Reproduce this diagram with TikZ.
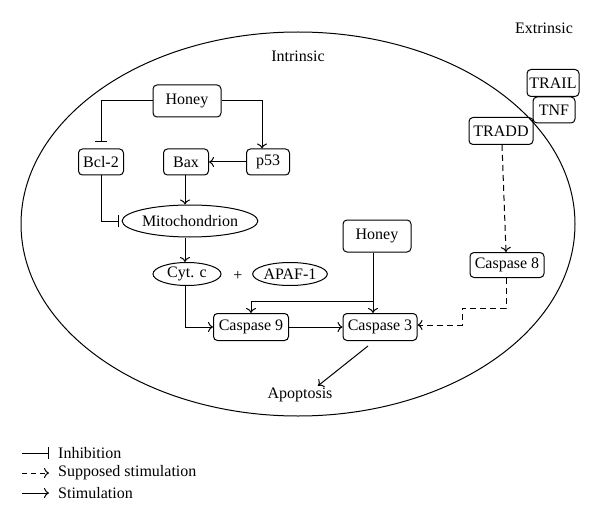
\documentclass[tikz,border=0pt]{standalone}
\usepackage{fontspec}
\setmainfont{Liberation Serif}
\usetikzlibrary{arrows.meta,shapes.geometric}
\begin{document}
\begin{tikzpicture}[x=1pt,y=-1pt,
  every node/.style={font=\fontsize{16}{18}\selectfont, inner sep=1pt},
  box/.style={draw, rounded corners=4pt, line width=1pt, minimum height=26pt},
  oval/.style={draw, ellipse, line width=1pt, inner sep=0pt},
  conn/.style={line width=1pt, -{To[length=5pt,width=10pt]}},
  inh/.style={line width=1pt, -{Bar[width=12pt,line width=1pt]}},
  dsh/.style={line width=1pt, dash pattern=on 6pt off 4pt, -{To[length=5pt,width=10pt]}}]
\useasboundingbox (0,0) rectangle (600,524);
% cell
\draw[line width=1pt] (298,224) ellipse [x radius=277, y radius=192];
\node (intr) at (298,56) {Intrinsic};
\node (extr) at (544,28) {Extrinsic};
% nodes
\node[box, minimum width=68pt, minimum height=32pt] (honey) at (187,101) {Honey};
\node[box, minimum width=45pt] (bcl) at (101,162) {Bcl-2};
\node[box, minimum width=45pt] (bax) at (186,162) {Bax};
\node[box, minimum width=43pt] (p53) at (268,162) {p53};
\node[oval, minimum width=124pt, minimum height=32pt] (mito) at (190,221) {Mitochondrion};
\node[oval, minimum width=68pt, minimum height=23pt] (cytc) at (187,274) {Cyt. c};
\node (plus) at (238,276) {+};
\node[oval, minimum width=68pt, minimum height=23pt] (apaf) at (290,274) {APAF-1};
\node[box, minimum width=68pt, minimum height=32pt] (honey2) at (377,236) {Honey};
\node[box, minimum width=75pt, minimum height=27pt] (c9) at (251,327) {Caspase 9};
\node[box, minimum width=74pt, minimum height=27pt] (c3) at (380,327) {Caspase 3};
\node (apop) at (300,395) {Apoptosis};
\node[box, minimum width=74pt, minimum height=25pt] (c8) at (507,265) {Caspase 8};
\node[box, minimum width=52pt, minimum height=27pt] (trail) at (553,83) {TRAIL};
\node[box, minimum width=42pt, minimum height=26pt] (tnf) at (554,110) {TNF};
\node[box, minimum width=64pt, minimum height=27pt] (tradd) at (501,131) {TRADD};
% connectors
\draw[inh, shorten >=6pt] (honey.west) -| (bcl.north);
\draw[conn] (honey.east) -| ([xshift=-6pt]p53.north);
\draw[conn] (p53.west) -- (bax.east);
\draw[conn] ([xshift=-1pt]bax.south) -- ([xshift=-1pt]bax.south |- mito.north);
\draw[inh, shorten >=3pt] (bcl.south) |- (mito.west);
\draw[conn] ([xshift=-5pt]mito.south) -- ([xshift=-5pt]mito.south |- cytc.north);
\draw[conn] ([xshift=-2pt]cytc.south) |- (c9.west);
\draw[conn] ([xshift=-4pt]honey2.south) -- ([xshift=-4pt]honey2.south |- c3.north);
\coordinate (br) at ([xshift=-4pt]honey2.south |- 0,301);
\draw[conn] (br) -| (c9.north);
\draw[conn] (c9.east) -- (c3.west);
\coordinate (c3o) at (368,346);
\draw[conn] (c3o) -- ([xshift=18pt,yshift=1pt]apop.north);
\draw[dsh] ([xshift=1pt]tradd.south) -- ([xshift=-1pt]c8.north);
\coordinate (k1) at (462,308);
\draw[dsh] ([xshift=-1pt]c8.south) |- (k1) |- ([yshift=2pt]c3.east);
% legend
\coordinate (l1a) at (22,453); \coordinate (l1b) at (49,453);
\coordinate (l2a) at (22,473); \coordinate (l2b) at (49,473);
\coordinate (l3a) at (22,493); \coordinate (l3b) at (49,493);
\draw[inh] (l1a) -- (l1b);
\draw[line width=1pt, dash pattern=on 5pt off 4pt, -{To[length=5pt,width=10pt]}] (l2a) -- (l2b);
\draw[conn] (l3a) -- (l3b);
\node[anchor=west] (t1) at (57,453) {Inhibition};
\node[anchor=west] (t2) at (57,473) {Supposed stimulation};
\node[anchor=west] (t3) at (57,493) {Stimulation};
\end{tikzpicture}
\end{document}
